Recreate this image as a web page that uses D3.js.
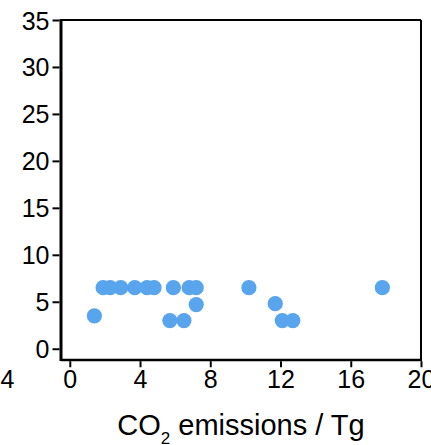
<!DOCTYPE html>
<html>
<head>
<meta charset="utf-8">
<script src="https://cdn.jsdelivr.net/npm/d3@7"></script>
<style>
  body { margin: 0; background: #fff; }
  text { font-family: "Liberation Sans", Arial, sans-serif; fill: #000; }
</style>
</head>
<body>
<div id="chart"></div>
<script>
'use strict';

// CO2 emissions (Tg) vs value
var emissions = [1.4, 1.9, 2.3, 2.9, 3.7, 4.4, 4.8, 5.9, 6.8, 7.2, 10.2, 17.8, 7.2, 11.7, 5.7, 6.5, 12.1, 12.7];
var values = [3.5, 6.5, 6.5, 6.5, 6.5, 6.5, 6.5, 6.5, 6.5, 6.5, 6.5, 6.5, 4.7, 4.8, 3.0, 3.0, 3.0, 3.0];
var xTicks = [-4, 0, 4, 8, 12, 16, 20];
var yTicks = [0, 5, 10, 15, 20, 25, 30, 35];

var width = 431, height = 445;
var box = { left: 61, right: 421, top: 20, bottom: 360 };

var svg = d3.select('#chart').append('svg')
    .attr('width', width)
    .attr('height', height);

var x = d3.scaleLinear().domain([-0.5, 20]).range([box.left, box.right]);
var y = d3.scaleLinear().domain([-1.2, 35]).range([box.bottom, box.top]);

// points
svg.append('g').selectAll('circle')
    .data(emissions)
    .enter().append('circle')
    .attr('cx', function (d) { return x(d); })
    .attr('cy', function (d, i) { return y(values[i]); })
    .attr('r', 7.6)
    .attr('fill', '#58a4ed');

// frame
var frame = svg.append('g').attr('stroke', '#000').attr('fill', 'none');
frame.append('line').attr('x1', box.left).attr('x2', box.right).attr('y1', box.top).attr('y2', box.top).attr('stroke-width', 2);
frame.append('line').attr('x1', box.right).attr('x2', box.right).attr('y1', box.top).attr('y2', box.bottom).attr('stroke-width', 2);
frame.append('line').attr('x1', box.left).attr('x2', box.left).attr('y1', box.top - 1).attr('y2', box.bottom + 1).attr('stroke-width', 3);
frame.append('line').attr('x1', box.left).attr('x2', box.right + 1).attr('y1', box.bottom).attr('y2', box.bottom).attr('stroke-width', 2.5);

// y axis
var yAxis = svg.append('g')
    .attr('transform', 'translate(' + (box.left - 1.5) + ',0)')
    .call(d3.axisLeft(y).tickValues(yTicks).tickSize(7).tickPadding(3));
yAxis.select('.domain').remove();
yAxis.selectAll('line').attr('stroke', '#000').attr('stroke-width', 2);
yAxis.selectAll('text').attr('font-size', 25).attr('dy', '0.36em');

// x axis
var xAxis = svg.append('g')
    .attr('transform', 'translate(0,' + (box.bottom + 1.25) + ')')
    .call(d3.axisBottom(x).tickValues(xTicks).tickSize(6).tickPadding(3).tickFormat(function (d) { return d < 0 ? '\u2212' + Math.abs(d) : d; }));
xAxis.select('.domain').remove();
xAxis.selectAll('line').attr('stroke', '#000').attr('stroke-width', 2);
xAxis.selectAll('.tick').filter(function (d) { return d < 0; }).select('line').remove();
xAxis.selectAll('text').attr('font-size', 25);

// x title
var title = svg.append('text')
    .attr('x', (box.left + box.right) / 2)
    .attr('y', 435)
    .attr('text-anchor', 'middle')
    .attr('font-size', 29);
title.append('tspan').text('CO');
title.append('tspan').attr('font-size', 17).attr('dy', 9).text('2');
title.append('tspan').attr('dy', -9).text(' emissions / Tg');
</script>
</body>
</html>
